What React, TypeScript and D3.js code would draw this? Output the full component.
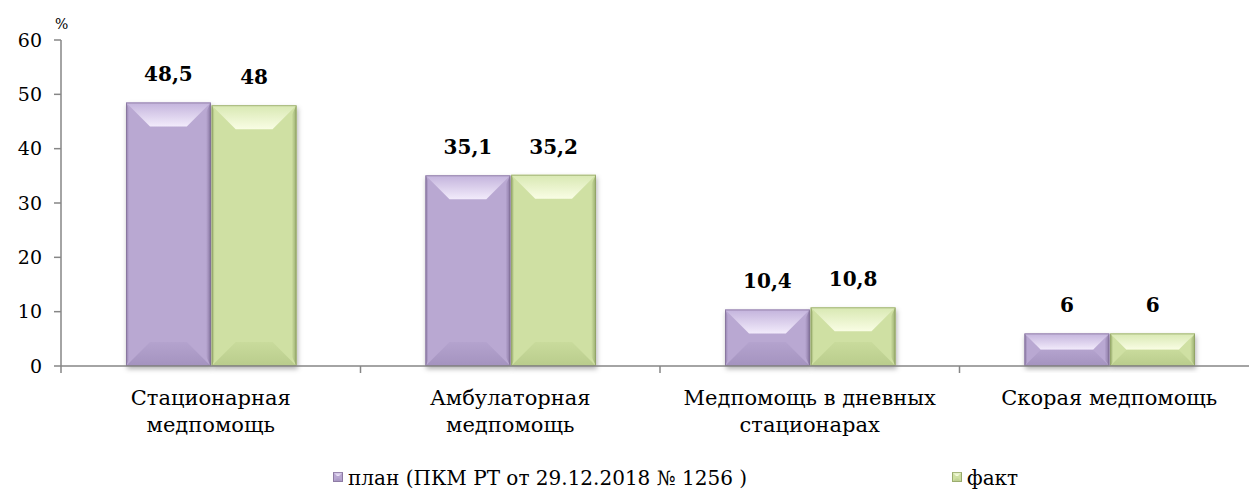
import React from 'react'
import * as d3 from 'd3'

const categories = [
  ['Стационарная', 'медпомощь'],
  ['Амбулаторная', 'медпомощь'],
  ['Медпомощь в дневных', 'стационарах'],
  ['Скорая медпомощь'],
]
const seriesNames = ['план (ПКМ РТ от 29.12.2018 № 1256 )', 'факт']
const planValues = [48.5, 35.1, 10.4, 6]
const factValues = [48, 35.2, 10.8, 6]
const yTicks = [0, 10, 20, 30, 40, 50, 60]

const palettes = [
  { id: 'p', base: '#b9a8d2', topA: '#c3b3dc', topB: '#f2ebfb', side: '#8d7aa8', bottomA: '#b4a3ce', bottomB: '#a493bf', edge: '#857299' },
  { id: 'f', base: '#cfe0a3', topA: '#d8e8b2', topB: '#f9fde4', side: '#97ab6c', bottomA: '#c9db9c', bottomB: '#b9cc8c', edge: '#8ea063' },
]

const W = 1249
const H = 499
const x0 = 61
const font = "'DejaVu Serif', 'Liberation Serif', serif"
const fmt = (v: number) => String(v).replace('.', ',')

function Gradients({ p }: { p: any }) {
  return (
    <>
      <linearGradient id={`${p.id}-top`} x1="0" y1="0" x2="0" y2="1">
        <stop offset="0" stopColor={p.topA} />
        <stop offset="1" stopColor={p.topB} />
      </linearGradient>
      <linearGradient id={`${p.id}-bottom`} x1="0" y1="0" x2="0" y2="1">
        <stop offset="0" stopColor={p.bottomA} />
        <stop offset="1" stopColor={p.bottomB} />
      </linearGradient>
      <linearGradient id={`${p.id}-left`} x1="0" y1="0" x2="1" y2="0">
        <stop offset="0" stopColor={p.side} />
        <stop offset="0.25" stopColor={p.base} />
        <stop offset="1" stopColor={p.base} />
      </linearGradient>
      <linearGradient id={`${p.id}-right`} x1="0" y1="0" x2="1" y2="0">
        <stop offset="0" stopColor={p.base} />
        <stop offset="0.6" stopColor={p.base} />
        <stop offset="1" stopColor={p.side} />
      </linearGradient>
    </>
  )
}

function BevelBar({ x, y, w, h, p, bev = 24, shadow = true }: { x: number; y: number; w: number; h: number; p: any; bev?: number; shadow?: boolean }) {
  const b = Math.min(bev, h / 2, w / 2)
  const s = Math.min(b, 12)
  const x1 = x + w
  const y1 = y + h
  const pts = (a: number[][]) => a.map(d => d.join(',')).join(' ')
  return (
    <g filter={shadow ? 'url(#shadow)' : undefined}>
      <rect x={x} y={y} width={w} height={h} fill={p.base} />
      <polygon points={pts([[x, y], [x + s, y + b], [x + s, y1 - b], [x, y1]])} fill={`url(#${p.id}-left)`} />
      <polygon points={pts([[x1, y], [x1, y1], [x1 - s, y1 - b], [x1 - s, y + b]])} fill={`url(#${p.id}-right)`} />
      <polygon points={pts([[x, y], [x1, y], [x1 - b, y + b], [x + b, y + b]])} fill={`url(#${p.id}-top)`} />
      <polygon points={pts([[x, y1], [x + b, y1 - b], [x1 - b, y1 - b], [x1, y1]])} fill={`url(#${p.id}-bottom)`} />
      <rect x={x + 0.5} y={y + 0.5} width={w - 1} height={h - 1} fill="none" stroke={p.edge} strokeWidth={1} strokeOpacity={0.7} />
    </g>
  )
}

export default function App() {
  const xScale = d3.scaleBand<number>().domain(d3.range(categories.length)).range([x0, 1259])
  const inner = d3.scaleBand<number>().domain([0, 1]).range([65, xScale.bandwidth() - 64]).paddingInner(0.01)
  const yScale = d3.scaleLinear().domain([0, 60]).range([366, 40])
  const series = [planValues, factValues]

  return (
    <svg width={W} height={H} style={{ position: 'absolute', left: 0, top: 0, fontFamily: font }}>
      <defs>
        <filter id="shadow" x="-10%" y="-10%" width="130%" height="130%">
          <feDropShadow dx="1" dy="3" stdDeviation="2.5" floodColor="#000" floodOpacity="0.3" />
        </filter>
        {palettes.map(p => <Gradients key={p.id} p={p} />)}
      </defs>
      <rect width={W} height={H} fill="#fff" />

      {/* y axis */}
      <line x1={x0} x2={x0} y1={yScale(60)} y2={yScale(0)} stroke="#868686" strokeWidth={1.5} />
      {yTicks.map(t => (
        <g key={t}>
          <line x1={x0 - 7} x2={x0} y1={yScale(t)} y2={yScale(t)} stroke="#868686" strokeWidth={1.5} />
          <text x={42} y={yScale(t)} dy="0.35em" textAnchor="end" fontSize={19}>{t}</text>
        </g>
      ))}
      <text x={55} y={29} fontSize={14}>%</text>

      {/* bars */}
      {series.map((vals, s) =>
        vals.map((v, i) => {
          const bx = (xScale(i) as number) + (inner(s) as number)
          const by = yScale(v)
          return (
            <g key={`${s}-${i}`}>
              <BevelBar x={bx} y={by} w={inner.bandwidth()} h={yScale(0) - by} p={palettes[s]} />
              <text x={bx + inner.bandwidth() / 2} y={by - 21} textAnchor="middle" fontSize={20} fontWeight="bold">
                {fmt(v)}
              </text>
            </g>
          )
        })
      )}

      {/* x axis */}
      <line x1={x0} x2={W} y1={yScale(0)} y2={yScale(0)} stroke="#868686" strokeWidth={1.5} />
      {d3.range(categories.length).map(i => (
        <line key={i} x1={xScale(i) as number} x2={xScale(i) as number} y1={yScale(0)} y2={yScale(0) + 7} stroke="#868686" strokeWidth={1.5} />
      ))}
      {categories.map((lines, i) => (
        <text key={i} x={(xScale(i) as number) + xScale.bandwidth() / 2} y={405} textAnchor="middle" fontSize={21}>
          {lines.map((l, j) => (
            <tspan key={j} x={(xScale(i) as number) + xScale.bandwidth() / 2} dy={j === 0 ? 0 : 27}>{l}</tspan>
          ))}
        </text>
      ))}

      {/* legend */}
      {seriesNames.map((n, s) => {
        const lx = s === 0 ? 333 : 952
        return (
          <g key={n}>
            <BevelBar x={lx} y={472} w={10} h={10} p={palettes[s]} bev={4} shadow={false} />
            <text x={lx + 15} y={478} dy="0.35em" fontSize={20}>{n}</text>
          </g>
        )
      })}
    </svg>
  )
}
